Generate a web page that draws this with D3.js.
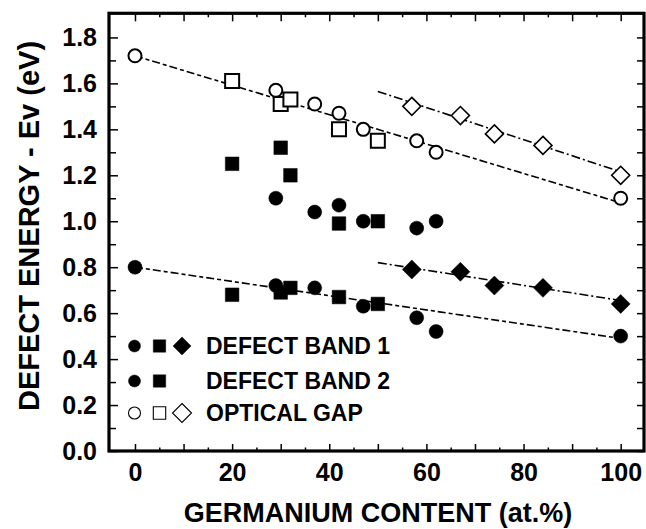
<!DOCTYPE html>
<html>
<head>
<meta charset="utf-8">
<script src="https://cdn.jsdelivr.net/npm/d3@7"></script>
<style>
  html, body { margin: 0; padding: 0; background: #fff; }
  svg { display: block; }
  text { font-family: "Liberation Sans", Arial, Helvetica, sans-serif; font-weight: bold; fill: #000; }
</style>
</head>
<body>
<svg id="chart" width="646" height="529"></svg>
<script>
// Germanium content (at.%) vs. energy above the valence band edge (eV)

// Defect band 1
const band1Circles  = [[0, 0.80], [29, 0.72], [37, 0.71], [47, 0.63], [58, 0.58], [62, 0.52], [100, 0.50]];
const band1Squares  = [[20, 0.68], [30, 0.69], [32, 0.71], [42, 0.67], [50, 0.64]];
const band1Diamonds = [[57, 0.79], [67, 0.78], [74, 0.72], [84, 0.71], [100, 0.64]];

// Defect band 2
const band2Circles  = [[29, 1.10], [37, 1.04], [42, 1.07], [47, 1.00], [58, 0.97], [62, 1.00]];
const band2Squares  = [[20, 1.25], [30, 1.32], [32, 1.20], [42, 0.99], [50, 1.00]];

// Optical gap
const gapCircles    = [[0, 1.72], [29, 1.57], [37, 1.51], [42, 1.47], [47, 1.40], [58, 1.35], [62, 1.30], [100, 1.10]];
const gapSquares    = [[20, 1.61], [30, 1.51], [32, 1.53], [42, 1.40], [50, 1.35]];
const gapDiamonds   = [[57, 1.50], [67, 1.46], [74, 1.38], [84, 1.33], [100, 1.20]];

// Trend lines
const gapTrend          = [[0, 1.72], [100, 1.08]];
const gapDiamondTrend   = [[50, 1.565], [100, 1.215]];
const band1Trend        = [[0, 0.80], [100, 0.49]];
const band1DiamondTrend = [[50, 0.82], [100, 0.655]];

// Axis ticks
const xLabelTicks = [0, 20, 40, 60, 80, 100];
const xMajorTicks = [0, 10, 20, 30, 40, 50, 60, 70, 80, 90, 100];
const xMinorTicks = [5, 15, 25, 35, 45, 55, 65, 75, 85, 95];
const yLabelTicks = [0, 0.2, 0.4, 0.6, 0.8, 1.0, 1.2, 1.4, 1.6, 1.8];
const yMinorTicks = [0.1, 0.3, 0.5, 0.7, 0.9, 1.1, 1.3, 1.5, 1.7];

const legendRows = [
  { label: "DEFECT BAND 1", shapes: ["circle", "square", "diamond"], filled: true },
  { label: "DEFECT BAND 2", shapes: ["circle", "square"], filled: true },
  { label: "OPTICAL GAP",   shapes: ["circle", "square", "diamond"], filled: false }
];

const xTitle = "GERMANIUM CONTENT (at.%)";
const yTitle = "DEFECT ENERGY - Ev (eV)";

const svg = d3.select("#chart");
const plotLeft = 109, plotRight = 644, plotTop = 13.3, plotBottom = 451;

const x = d3.scaleLinear().domain([-5.35, 104.8]).range([plotLeft, plotRight]);
const y = d3.scaleLinear().domain([0, 1.905]).range([plotBottom, plotTop]);

// Axes: inward ticks on all four sides
function styleAxis(g) {
  g.select(".domain").remove();
  g.selectAll(".tick line").attr("stroke", "#000").attr("stroke-width", 1.5);
  g.selectAll(".tick text").style("font-size", "25px").attr("font-family", null);
}

svg.append("g").attr("transform", `translate(0,${plotBottom})`)
  .call(d3.axisBottom(x).tickValues(xMajorTicks).tickSize(-7).tickPadding(12)
    .tickFormat(d => xLabelTicks.includes(d) ? d3.format("d")(d) : ""))
  .call(styleAxis);
svg.append("g").attr("transform", `translate(0,${plotBottom})`)
  .call(d3.axisBottom(x).tickValues(xMinorTicks).tickSize(-3.5).tickFormat(""))
  .call(styleAxis);
svg.append("g").attr("transform", `translate(0,${plotTop})`)
  .call(d3.axisTop(x).tickValues(xMajorTicks).tickSize(-8).tickFormat(""))
  .call(styleAxis);
svg.append("g").attr("transform", `translate(0,${plotTop})`)
  .call(d3.axisTop(x).tickValues(xMinorTicks).tickSize(-4).tickFormat(""))
  .call(styleAxis);

svg.append("g").attr("transform", `translate(${plotLeft},0)`)
  .call(d3.axisLeft(y).tickValues(yLabelTicks).tickSize(-9).tickPadding(12)
    .tickFormat(d3.format(".1f")))
  .call(styleAxis);
svg.append("g").attr("transform", `translate(${plotLeft},0)`)
  .call(d3.axisLeft(y).tickValues(yMinorTicks).tickSize(-7).tickFormat(""))
  .call(styleAxis);
svg.append("g").attr("transform", `translate(${plotRight},0)`)
  .call(d3.axisRight(y).tickValues(yLabelTicks.concat(yMinorTicks)).tickSize(-7).tickFormat(""))
  .call(styleAxis);

// Frame
svg.append("rect")
  .attr("x", plotLeft).attr("y", plotTop)
  .attr("width", plotRight - plotLeft).attr("height", plotBottom - plotTop)
  .attr("fill", "none").attr("stroke", "#000").attr("stroke-width", 3.2);

// Axis titles
svg.append("text")
  .attr("x", 378).attr("y", 522)
  .attr("text-anchor", "middle")
  .style("font-size", "27px")
  .text(xTitle);

svg.append("text")
  .attr("transform", "translate(39,226) rotate(-90)")
  .attr("text-anchor", "middle")
  .style("font-size", "29px")
  .text(yTitle);

// Trend lines
const line = d3.line().x(d => x(d[0])).y(d => y(d[1]));
const trendGroup = svg.append("g").attr("fill", "none").attr("stroke", "#000").attr("stroke-width", 1.6);
[[gapTrend, "8,3,4,3"], [band1Trend, "8,3,4,3"],
 [gapDiamondTrend, "9,3,2,3"], [band1DiamondTrend, "9,3,2,3"]].forEach(([pts, dash]) => {
  trendGroup.append("path").attr("d", line(pts)).attr("stroke-dasharray", dash);
});

// Marker shapes
const symbolPath = {
  circle:  r => d3.symbol(d3.symbolCircle, Math.PI * r * r)(),
  square:  r => d3.symbol(d3.symbolSquare, (2 * r) * (2 * r))(),
  diamond: r => `M0,${-r}L${r},0L0,${r}L${-r},0Z`
};

function drawMarkers(data, shape, r, filled, sw) {
  svg.append("g").selectAll("path").data(data).join("path")
    .attr("transform", d => `translate(${x(d[0])},${y(d[1])})`)
    .attr("d", symbolPath[shape](r))
    .attr("fill", filled ? "#000" : "#fff")
    .attr("stroke", "#000")
    .attr("stroke-width", filled ? 0.5 : sw);
}

drawMarkers(gapCircles, "circle", 6.5, false, 2);
drawMarkers(gapSquares, "square", 7, false, 2);
drawMarkers(gapDiamonds, "diamond", 9, false, 1.6);

drawMarkers(band2Circles, "circle", 7, true);
drawMarkers(band2Squares, "square", 6.8, true);

drawMarkers(band1Circles, "circle", 7, true);
drawMarkers(band1Squares, "square", 6.8, true);
drawMarkers(band1Diamonds, "diamond", 9.5, true);

// Legend
const legendX = [134.5, 159.5, 182];
const legendY = [346, 381, 413];
legendRows.forEach((row, i) => {
  const g = svg.append("g").attr("transform", `translate(0,${legendY[i]})`);
  row.shapes.forEach((s, j) => {
    const r = s === "diamond" ? (row.filled ? 9 : 9.5) : (s === "circle" ? 6 : 6.2);
    g.append("path")
      .attr("transform", `translate(${legendX[j]},0)`)
      .attr("d", symbolPath[s](r))
      .attr("fill", row.filled ? "#000" : "#fff")
      .attr("stroke", "#000")
      .attr("stroke-width", row.filled ? 0.5 : 1.1);
  });
  g.append("text")
    .attr("x", 206).attr("dy", "0.36em")
    .style("font-size", "23px")
    .text(row.label);
});
</script>
</body>
</html>
